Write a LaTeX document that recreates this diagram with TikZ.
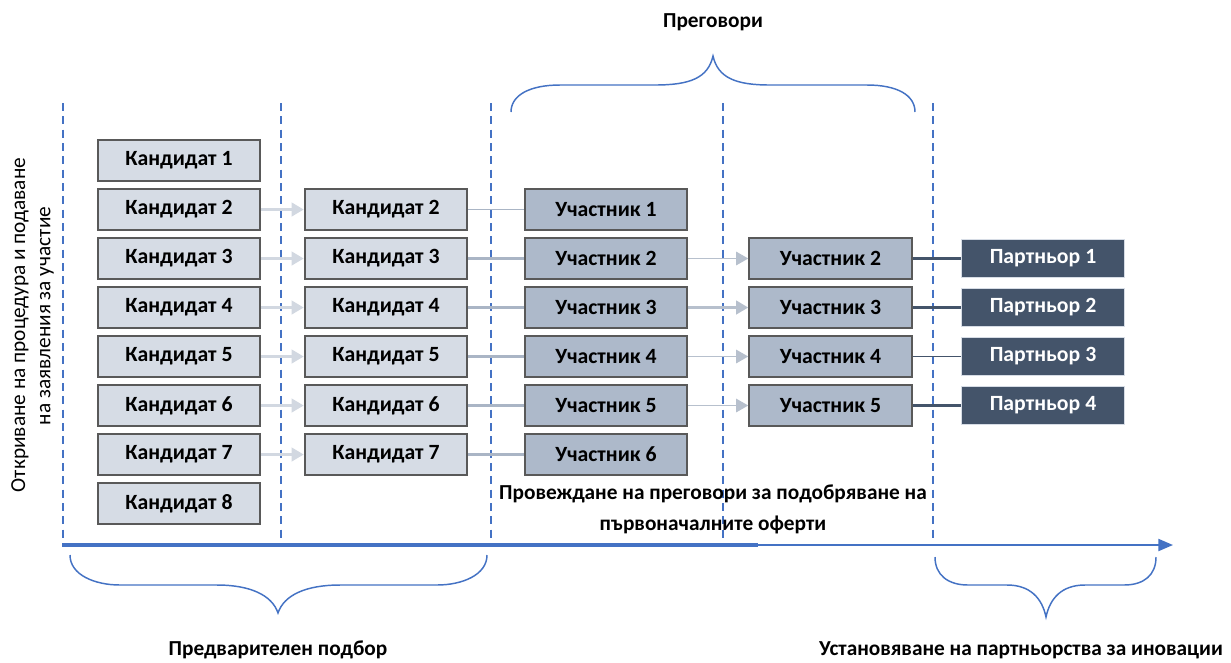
\documentclass[tikz,border=0pt]{standalone}
\usepackage{fontspec}
\setmainfont{Carlito}
\usetikzlibrary{arrows.meta}
\definecolor{candfill}{HTML}{D6DCE5}
\definecolor{partfill}{HTML}{ADB9CA}
\definecolor{partnerfill}{HTML}{44546A}
\definecolor{boxedge}{HTML}{595959}
\definecolor{axisblue}{HTML}{4472C4}
\definecolor{lightarrow}{HTML}{D2D8E1}
\definecolor{midline}{HTML}{AAB5C5}
\definecolor{arrowthree}{HTML}{B7C0CD}
\tikzset{
  boxbase/.style={draw=boxedge, line width=1.4pt, minimum width=122pt, minimum height=30.5pt, inner sep=0pt,
    font=\fontsize{16.3}{19}\selectfont\bfseries},
  candbox/.style={boxbase, fill=candfill},
  partbox/.style={boxbase, fill=partfill},
  partnerbox/.style={boxbase, fill=partnerfill, draw=candfill, line width=0.8pt, text=white, minimum height=29pt},
  arrowone/.style={draw=lightarrow, line width=2pt, -{Triangle[length=9pt,width=10pt]}},
  linetwo/.style={draw=midline, line width=2pt},
  linetwothin/.style={draw=midline, line width=1pt},
  arrowthr/.style={draw=arrowthree, line width=1.2pt, -{Triangle[length=9pt,width=10pt]}},
  linefour/.style={draw=partnerfill, line width=2.2pt},
  linefourthin/.style={draw=partnerfill, line width=1.2pt},
  phase/.style={draw=axisblue, line width=1.1pt, dash pattern=on 6pt off 4pt},
  bracepath/.style={draw=axisblue, line width=1.1pt},
  label/.style={font=\fontsize{16}{19}\selectfont\bfseries},
  sidelabel/.style={font=\fontsize{16}{19}\selectfont, rotate=90},
}
\begin{document}
\begin{tikzpicture}[x=0.75pt,y=-0.75pt]
\useasboundingbox[fill=white] (0,0) rectangle (1231,662);

% phase separators
\foreach \k/\xx in {1/63,2/281,3/491,4/723,5/933}{
  \coordinate (t\k) at (\xx,103);
  \coordinate (b\k) at (\xx,540);
  \draw[phase] (t\k) -- (b\k);
}

% column 1
\foreach \i in {1,...,8}
  \node[candbox] (c\i) at (179,{160.5+49*(\i-1)}) {Кандидат \i};
% column 2
\foreach \i in {2,...,7}
  \node[candbox] (d\i) at (386,{160.5+49*(\i-1)}) {Кандидат \i};
% column 3
\foreach \i in {1,...,6}
  \node[partbox] (u\i) at (606,{160.5+49*\i}) {Участник \i};
% column 4
\foreach \i in {2,...,5}
  \node[partbox] (v\i) at (830.5,{160.5+49*\i}) {Участник \i};
% column 5
\foreach \i in {1,...,4}
  \node[partnerbox] (p\i) at (1043,{160.5+49*(\i+1)}) {Партньор \i};

% connectors
\foreach \i in {2,...,7}
  \draw[arrowone] (c\i) -- (d\i);
\draw[linetwothin] (d2) -- (u1);
\draw[linetwo] (d3) -- (u2);
\draw[linetwo] (d4) -- (u3);
\draw[linetwo] (d5) -- (u4);
\draw[linetwo] (d6) -- (u5);
\draw[linetwo] (d7) -- (u6);
\draw[arrowthr] (u2) -- (v2);
\draw[arrowthr, line width=2pt] (u3) -- (v3);
\draw[arrowthr] (u4) -- (v4);
\draw[arrowthr] (u5) -- (v5);
\draw[linefour] (v2) -- (p1);
\draw[linefour] (v3) -- (p2);
\draw[linefourthin] (v4) -- (p3);
\draw[linefour] (v5) -- (p4);

% time axis
\coordinate (a0) at (62,545);
\coordinate (am) at (758,545);
\coordinate (a1) at (1173,545);
\draw[draw=axisblue, line width=3pt] (a0) -- (am);
\draw[draw=axisblue, line width=1.5pt, -{Triangle[length=11pt,width=9pt]}] ([xshift=-1pt]am) -- (a1);

% braces
\draw[bracepath] (511,112) .. controls (511,95) and (530,85) .. (560,85) -- (655,85)
  .. controls (690,85) and (708,78) .. (713,56) .. controls (718,78) and (736,85) .. (770,85)
  -- (867,85) .. controls (897,85) and (915,95) .. (915,112);
\draw[bracepath] (70,555) .. controls (70,575) and (95,585) .. (120,585) -- (217,585)
  .. controls (250,585) and (272,595) .. (278,613) .. controls (284,595) and (306,585) .. (340,585)
  -- (437,585) .. controls (462,585) and (487,575) .. (487,555);
\draw[bracepath] (935,557) .. controls (935,575) and (948,585) .. (968,585) -- (1007,585)
  .. controls (1030,585) and (1042,598) .. (1046,617) .. controls (1050,598) and (1062,585) .. (1085,585)
  -- (1124,585) .. controls (1144,585) and (1156,575) .. (1156,557);

% labels
\node[label] (neg) at (713,22) {Преговори};
\node[label] (pre) at (278,650) {Предварителен подбор};
\node[label] (est) at (1021,650) {Установяване на партньорства за иновации};
\node[label] (cond1) at (713,494) {Провеждане на преговори за подобряване на};
\node[label] (cond2) at (713,525) {първоначалните оферти};
\node[sidelabel] (open1) at (20,325) {Откриване на процедура и подаване};
\node[sidelabel] (open2) at (47,316) {на заявления за участие};
\end{tikzpicture}
\end{document}
